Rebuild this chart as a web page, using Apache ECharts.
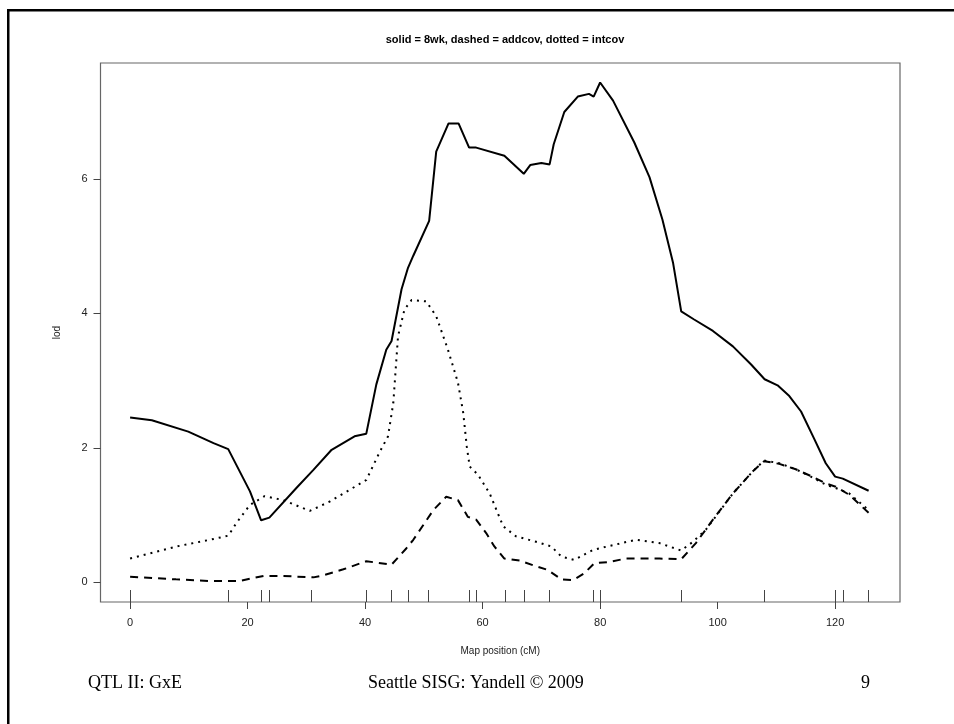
<!DOCTYPE html>
<html>
<head>
<meta charset="utf-8">
<script src="https://cdn.jsdelivr.net/npm/echarts@6/dist/echarts.min.js"></script>
<style>html,body{margin:0;padding:0;background:#fff;}#c{width:954px;height:724px;}</style>
</head>
<body>
<div id="c"></div>
<script>
// ---- data ----
var xTicks = [0, 20, 40, 60, 80, 100, 120];
var yTicks = [0, 2, 4, 6];
var markers = [0, 16.7, 22.3, 23.7, 30.8, 40.2, 44.4, 47.4, 50.8, 57.8, 58.9, 63.8, 67.0, 71.4, 78.9, 80.0, 93.8, 108.0, 120.0, 121.3, 125.7];

var pos8wk = [0, 3.7, 9.9, 14.2, 16.7, 20.4, 22.3, 23.7, 28.3, 31.2, 34.3, 38.2, 40.2, 41.9, 43.6, 44.5, 46.2, 47.3, 48.2, 50.9, 52.1, 54.2, 55.9, 57.7, 58.9, 63.7, 67.0, 68.1, 70.0, 71.4, 72.1, 73.9, 76.2, 78.1, 78.9, 80.0, 82.2, 85.8, 88.4, 90.6, 92.4, 93.8, 96.0, 99.2, 102.6, 105.7, 108.0, 110.2, 112.2, 114.2, 116.4, 118.4, 120.0, 121.3, 125.7];
var lod8wk = [2.45, 2.41, 2.24, 2.07, 1.98, 1.35, 0.92, 0.96, 1.40, 1.67, 1.97, 2.17, 2.21, 2.94, 3.46, 3.59, 4.36, 4.68, 4.86, 5.38, 6.41, 6.83, 6.83, 6.47, 6.47, 6.35, 6.08, 6.21, 6.24, 6.22, 6.52, 7.00, 7.23, 7.27, 7.23, 7.44, 7.17, 6.55, 6.03, 5.40, 4.76, 4.03, 3.91, 3.74, 3.51, 3.24, 3.02, 2.93, 2.77, 2.54, 2.14, 1.77, 1.57, 1.54, 1.36];

var posAdd = [0, 7.8, 13.6, 18.7, 20.4, 22.7, 26.1, 31.2, 32.9, 36.3, 40.2, 44.5, 47.0, 48.2, 51.6, 53.8, 55.8, 57.5, 58.9, 60.6, 62.0, 63.7, 66.3, 68.6, 71.1, 73.4, 75.4, 77.3, 79.0, 81.6, 84.4, 90.1, 93.8, 96.3, 99.2, 102.6, 106.0, 107.9, 110.5, 113.3, 116.1, 118.4, 120.1, 122.4, 125.7];
var lodAdd = [0.08, 0.04, 0.015, 0.015, 0.05, 0.09, 0.09, 0.07, 0.10, 0.19, 0.31, 0.26, 0.50, 0.63, 1.07, 1.27, 1.22, 0.97, 0.93, 0.73, 0.53, 0.35, 0.32, 0.25, 0.18, 0.04, 0.03, 0.13, 0.28, 0.30, 0.35, 0.35, 0.34, 0.58, 0.93, 1.32, 1.65, 1.80, 1.76, 1.68, 1.57, 1.47, 1.42, 1.30, 1.03];

var posInt = [0, 7.9, 13.6, 16.7, 18.1, 20.4, 22.9, 26.1, 30.6, 34.0, 40.2, 42.5, 43.9, 44.8, 45.6, 46.7, 47.9, 50.4, 52.1, 54.1, 55.8, 56.7, 57.3, 57.8, 59.2, 61.2, 63.5, 65.7, 69.1, 71.7, 73.4, 75.6, 78.8, 82.2, 86.1, 90.1, 93.8, 95.8, 98.0, 102.6, 106.0, 107.9, 110.5, 113.3, 116.1, 118.4, 120.1, 122.4, 125.7];
var lodInt = [0.35, 0.53, 0.63, 0.69, 0.88, 1.15, 1.28, 1.22, 1.06, 1.20, 1.52, 1.94, 2.17, 2.67, 3.66, 4.06, 4.20, 4.18, 3.96, 3.46, 2.97, 2.52, 2.02, 1.72, 1.60, 1.32, 0.83, 0.68, 0.60, 0.53, 0.38, 0.33, 0.48, 0.55, 0.63, 0.58, 0.47, 0.60, 0.78, 1.32, 1.65, 1.81, 1.77, 1.68, 1.56, 1.45, 1.40, 1.32, 1.07];

var titleText = 'solid = 8wk, dashed = addcov, dotted = intcov';
var xName = 'Map position (cM)';
var yName = 'lod';
var footLeft = 'QTL II: GxE';
var footMid = 'Seattle SISG: Yandell \u00A9 2009';
var footRight = '9';

function zip(a, b) { return a.map(function (v, i) { return [v, b[i]]; }); }

var chart = echarts.init(document.getElementById('c'), null, { renderer: 'canvas' });
var axisFont = { fontFamily: 'Liberation Sans', fontSize: 11, color: '#222' };
chart.setOption({
  animation: false,
  backgroundColor: '#fff',
  title: {
    text: titleText, left: 500, top: 29, textAlign: 'center',
    textStyle: { fontFamily: 'Liberation Sans', fontWeight: 'bold', fontSize: 11, color: '#000' }
  },
  grid: { left: 100.5, right: 54, top: 63, bottom: 122, show: true, borderColor: '#666', borderWidth: 1.2, containLabel: false },
  xAxis: [{
    type: 'value', min: -5.04, max: 131.04, position: 'bottom',
    name: xName, nameLocation: 'middle', nameGap: 44,
    nameTextStyle: { fontFamily: 'Liberation Sans', fontSize: 10, color: '#222' },
    axisLine: { show: false, onZero: false },
    axisTick: { show: true, inside: false, length: 7, customValues: xTicks, lineStyle: { color: '#444', width: 1 } },
    axisLabel: Object.assign({ show: true, margin: 15, customValues: xTicks }, axisFont),
    splitLine: { show: false }
  }, {
    type: 'value', min: -5.04, max: 131.04, position: 'bottom',
    axisLine: { show: false, onZero: false },
    axisTick: { show: true, inside: true, length: 12, customValues: markers, lineStyle: { color: '#444', width: 1 } },
    axisLabel: { show: false },
    splitLine: { show: false }
  }],
  yAxis: {
    type: 'value', min: -0.297, max: 7.73, position: 'left',
    name: yName, nameLocation: 'middle', nameGap: 38, nameRotate: 90,
    nameTextStyle: { fontFamily: 'Liberation Sans', fontSize: 10, color: '#222' },
    axisLine: { show: false, onZero: false },
    axisTick: { show: true, inside: false, length: 7, customValues: yTicks, lineStyle: { color: '#444', width: 1 } },
    axisLabel: Object.assign({ show: true, margin: 13, customValues: yTicks }, axisFont),
    splitLine: { show: false }
  },
  series: [{
    name: '8wk', type: 'line', data: zip(pos8wk, lod8wk), showSymbol: false, symbol: 'none',
    lineStyle: { color: '#000', width: 2, type: 'solid' }
  }, {
    name: 'addcov', type: 'line', data: zip(posAdd, lodAdd), showSymbol: false, symbol: 'none',
    lineStyle: { color: '#000', width: 2, type: [8, 6] }
  }, {
    name: 'intcov', type: 'line', data: zip(posInt, lodInt), showSymbol: false, symbol: 'none',
    lineStyle: { color: '#000', width: 2, type: [2, 5] }
  }],
  graphic: [
    { type: 'rect', shape: { x: 7, y: 9, width: 947, height: 2.5 }, style: { fill: '#000' } },
    { type: 'rect', shape: { x: 7, y: 9, width: 2.5, height: 715 }, style: { fill: '#000' } },
    { type: 'text', left: 88, top: 674, style: { text: footLeft, font: '18px "Liberation Serif"', fill: '#000' } },
    { type: 'text', left: 368, top: 674, style: { text: footMid, font: '18px "Liberation Serif"', fill: '#000' } },
    { type: 'text', left: 861, top: 674, style: { text: footRight, font: '18px "Liberation Serif"', fill: '#000' } }
  ]
});
</script>
</body>
</html>
